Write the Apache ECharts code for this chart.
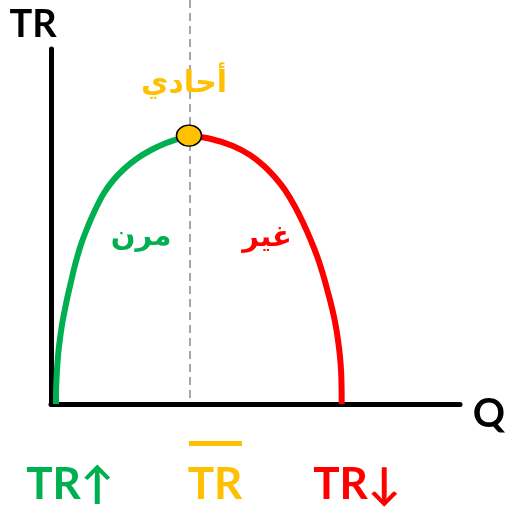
<!DOCTYPE html>
<html>
<head>
<meta charset="utf-8">
<script src="https://cdn.jsdelivr.net/npm/echarts@6/dist/echarts.min.js"></script>
<style>
  html, body { margin: 0; padding: 0; background: #fff; }
  #chart { width: 508px; height: 508px; }
</style>
</head>
<body>
<div id="chart"></div>
<script>
// left half of the TR curve (elastic, green)
const elasticQ  = [1.22, 1.25, 1.37, 1.56, 1.86, 2.25, 2.76, 3.37, 4.03, 4.82, 5.62, 6.48, 7.46, 8.56,
                   9.78, 11.25, 12.96, 15.16, 17.85, 21.03, 24.45, 27.87, 31.05, 33.74];
const elasticTR = [0, 3.94, 7.61, 11.27, 15.21, 18.87, 22.82, 26.48, 30.14, 34.08, 38.03, 41.69, 45.35, 48.73,
                   52.11, 55.77, 59.44, 62.96, 66.2, 69.15, 71.55, 73.38, 74.65, 75.61];
// right half (inelastic, red)
const inelasticQ  = [33.74, 39.61, 44.5, 48.66, 52.08, 55.01, 57.21, 59.66, 61.69, 63.5,
                     65.11, 66.43, 67.56, 68.63, 69.51, 70.17, 70.66, 70.95, 71.05, 71.08];
const inelasticTR = [75.61, 74.51, 72.68, 70.14, 67.04, 63.52, 60.28, 55.58, 50.9, 46.2,
                     41.49, 36.82, 32.11, 27.41, 22.73, 18.03, 13.32, 8.65, 3.94, 0];
// unit elasticity point (TR max)
const peakQ = [33.74];
const peakTR = [75.61];

const GREEN = '#00B050', RED = '#FF0000', YELLOW = '#FFC000';

const chart = echarts.init(document.getElementById('chart'));

const zip = (xs, ys) => xs.map((x, i) => [x, ys[i]]);

chart.setOption({
  animation: false,
  grid: { left: 51, right: 48, top: 49, bottom: 104 },
  xAxis: {
    type: 'value', min: 0, max: 100,
    axisLine: { lineStyle: { color: '#000', width: 5 } },
    axisTick: { show: false }, axisLabel: { show: false }, splitLine: { show: false }
  },
  yAxis: {
    type: 'value', min: 0, max: 100,
    axisLine: { show: true, lineStyle: { color: '#000', width: 5 } },
    axisTick: { show: false }, axisLabel: { show: false }, splitLine: { show: false }
  },
  series: [
    {
      type: 'line', smooth: 0.4, symbol: 'none', z: 3,
      lineStyle: { color: GREEN, width: 6 },
      data: zip(elasticQ, elasticTR)
    },
    {
      type: 'line', smooth: 0.4, symbol: 'none', z: 3,
      lineStyle: { color: RED, width: 6 },
      data: zip(inelasticQ, inelasticTR)
    },
    {
      type: 'scatter', symbol: 'circle', symbolSize: [25, 21], z: 5,
      itemStyle: { color: YELLOW, opacity: 1, borderColor: '#000', borderWidth: 1.5 },
      data: zip(peakQ, peakTR)
    }
  ]
});

// dashed guide through the peak, running from the top of the page down to the Q axis
const foot = chart.convertToPixel({ xAxisIndex: 0, yAxisIndex: 0 }, [peakQ[0], 0]);
const px = Math.round(foot[0]) + 1;

const txt = (text, x, y, color, font) => ({
  type: 'text', z: 10,
  style: { text, x, y, fill: color, font, textAlign: 'center', textVerticalAlign: 'middle' }
});

chart.setOption({
  graphic: [
    {
      type: 'line', z: 0, silent: true,
      shape: { x1: px, y1: 0, x2: px, y2: foot[1] - 3 },
      style: { stroke: '#A6A6A6', lineWidth: 2, lineDash: [8, 5] }
    },
    txt('TR', 33, 25, '#000', 'bold 38px Lato, sans-serif'),
    txt('Q', 489, 414, '#000', 'bold 40px Lato, sans-serif'),
    txt('أحادي', 184, 84, YELLOW, 'bold 30px "DejaVu Sans", sans-serif'),
    txt('مرن', 141, 237, GREEN, 'bold 29px "DejaVu Sans", sans-serif'),
    txt('غير', 267, 238, RED, 'bold 29px "DejaVu Sans", sans-serif'),
    txt('TR↑', 70, 485, GREEN, 'bold 44px Lato, "DejaVu Sans", sans-serif'),
    txt('TR', 215, 485, YELLOW, 'bold 44px Lato, sans-serif'),
    {
      type: 'rect', z: 10,
      shape: { x: 189, y: 441, width: 53, height: 5 },
      style: { fill: YELLOW }
    },
    txt('TR↓', 357, 485, RED, 'bold 44px Lato, "DejaVu Sans", sans-serif')
  ]
});

window.addEventListener('resize', () => chart.resize());
</script>
</body>
</html>
